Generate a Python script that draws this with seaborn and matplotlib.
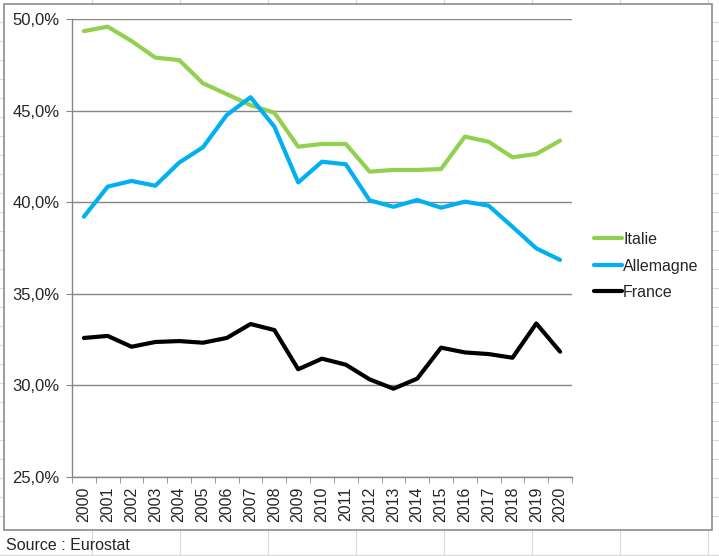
#!/usr/bin/env python3
"""Taux de prélèvements obligatoires : Italie, Allemagne, France (2000-2020)."""

import matplotlib.pyplot as plt
import pandas as pd
import seaborn as sns
from matplotlib.lines import Line2D
from matplotlib.patches import Rectangle
from matplotlib.ticker import FixedLocator, FuncFormatter

years = list(range(2000, 2021))
italie = [49.34, 49.58, 48.80, 47.89, 47.76, 46.49, 45.90, 45.30, 44.88, 43.03,
          43.18, 43.18, 41.67, 41.76, 41.76, 41.81, 43.58, 43.30, 42.45, 42.63,
          43.36]
allemagne = [39.21, 40.85, 41.16, 40.90, 42.16, 43.00, 44.76, 45.73, 44.12, 41.08,
             42.21, 42.07, 40.10, 39.75, 40.12, 39.70, 40.03, 39.81, 38.66, 37.48,
             36.85]
france = [32.59, 32.70, 32.11, 32.37, 32.42, 32.33, 32.59, 33.35, 33.02, 30.88,
          31.46, 31.13, 30.33, 29.82, 30.37, 32.06, 31.80, 31.71, 31.51, 33.38,
          31.84]
series_names = ["Italie", "Allemagne", "France"]
colors = ["#92D050", "#00B0F0", "#000000"]

W, H = 719, 556


def fx(x):
    return x / W


def fy(y):
    return 1 - y / H


def main() -> None:
    df = pd.DataFrame({"year": years, "Italie": italie,
                       "Allemagne": allemagne, "France": france})
    long = df.melt(id_vars="year", var_name="pays", value_name="taux")

    sns.set_style("white")
    plt.rcParams["font.family"] = ["Liberation Sans", "DejaVu Sans"]
    plt.rcParams["font.size"] = 11

    fig = plt.figure(figsize=(W / 100, H / 100), dpi=100)
    fig.patch.set_facecolor("white")

    # spreadsheet grid behind the chart
    grid_c = "#d9d9d9"
    for x in [92, 180, 268, 356, 444, 532, 620, 708]:
        fig.add_artist(Line2D([fx(x), fx(x)], [0, 1], color=grid_c, lw=0.8, zorder=0))
    for y in [22 + 19 * k for k in range(27)] + [555]:
        fig.add_artist(Line2D([0, 1], [fy(y), fy(y)], color=grid_c, lw=0.8, zorder=0))

    # chart frame
    fig.add_artist(Rectangle((fx(4), fy(530)), fx(712) - fx(4), fy(4) - fy(530),
                             facecolor="white", edgecolor="#8c8c8c", lw=1.2,
                             zorder=1))

    ax = fig.add_axes([fx(72), fy(477), fx(572) - fx(72), fy(19) - fy(477)])
    ax.set_zorder(2)
    ax.patch.set_alpha(0)

    sns.lineplot(data=long, x="year", y="taux", hue="pays",
                 hue_order=series_names, palette=colors, linewidth=3,
                 ax=ax, legend=True)

    ax.set_xlim(1999.5, 2020.5)
    ax.set_ylim(25, 50)
    ax.set_yticks([25, 30, 35, 40, 45, 50])
    ax.yaxis.set_major_formatter(
        FuncFormatter(lambda v, _: f"{v:.1f}%".replace(".", ",")))
    ax.yaxis.grid(True, color="#868686", lw=1)
    ax.set_xticks(years)
    ax.set_xticklabels([str(y) for y in years], rotation=90)
    ax.xaxis.set_minor_locator(FixedLocator([y + 0.5 for y in range(1999, 2021)]))
    ax.tick_params(axis="x", which="major", length=0, pad=7, labelsize=11.5)
    ax.tick_params(axis="x", which="minor", length=4, color="#868686",
                   direction="out", bottom=True)
    ax.tick_params(axis="y", length=4, color="#868686", direction="out",
                   left=True, pad=5, labelsize=12)
    ax.set_xlabel("")
    ax.set_ylabel("")
    for side in ["top", "right"]:
        ax.spines[side].set_visible(False)
    for side in ["left", "bottom"]:
        ax.spines[side].set_color("#868686")
        ax.spines[side].set_linewidth(1)

    handles, labels = ax.get_legend_handles_labels()
    ax.get_legend().remove()
    fig.legend(handles, labels, loc="center left",
               bbox_to_anchor=(fx(580), fy(266)), frameon=False,
               fontsize=11.5, handlelength=1.7, handletextpad=0.1,
               labelspacing=0.72)

    fig.text(fx(6), fy(545), "Source : Eurostat", fontsize=11.5,
             va="center", ha="left")

    fig.savefig("out.png", dpi=100, facecolor="white")
    plt.close(fig)


if __name__ == "__main__":
    main()
